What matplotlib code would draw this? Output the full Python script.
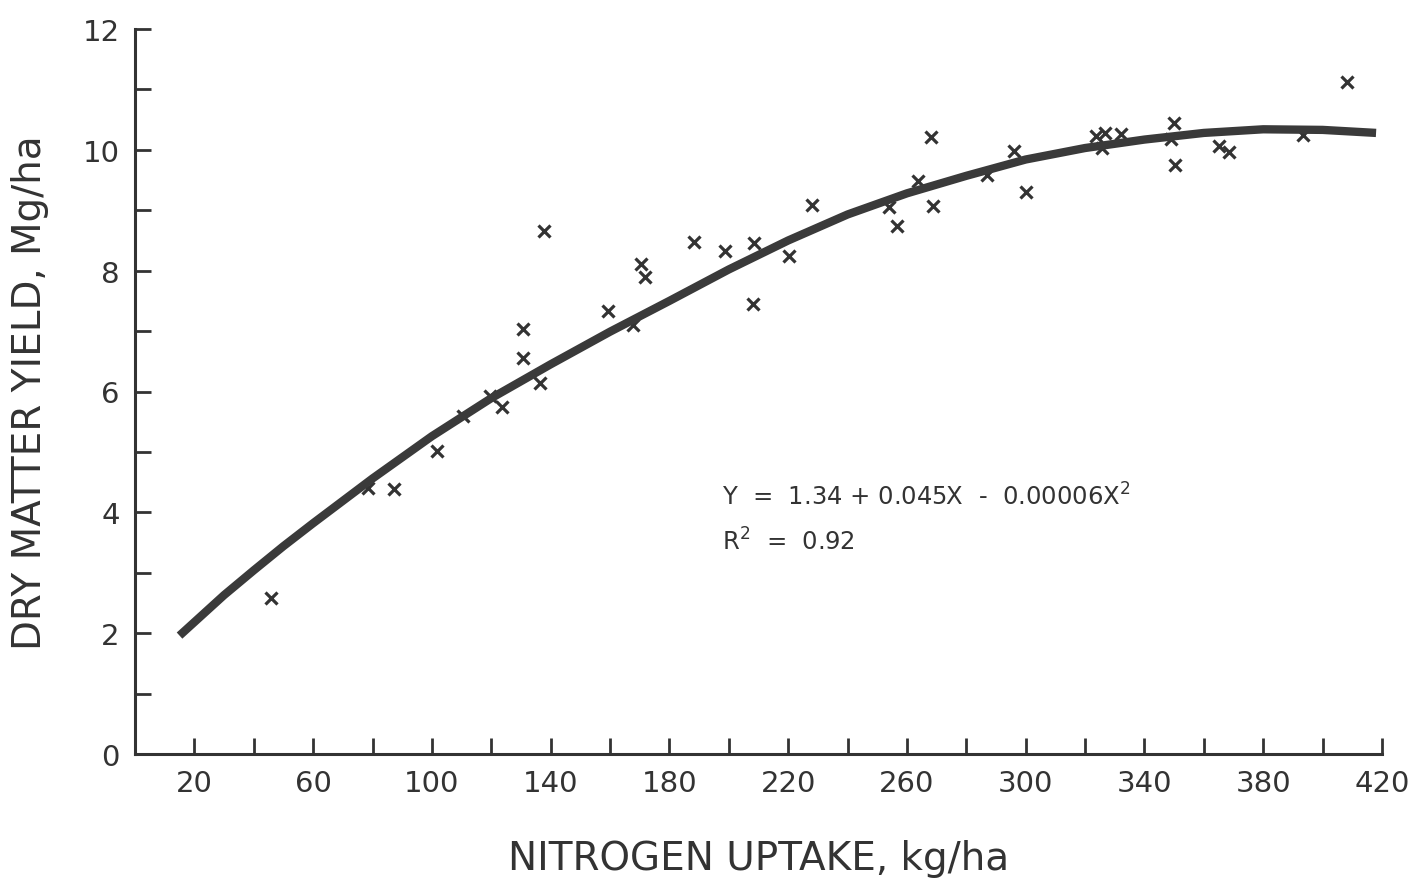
import matplotlib
matplotlib.use("Agg")
import matplotlib.pyplot as plt
from matplotlib.ticker import FixedLocator, FixedFormatter

# ---- data ----
uptake = [45.8, 78.5, 87.1, 101.7, 110.5, 119.7, 123.7, 130.8, 130.8, 136.3,
          137.9, 159.3, 167.6, 170.3, 171.7, 188.3, 198.8, 208.5, 208.0, 220.3,
          228.0, 254.1, 256.5, 263.8, 268.1, 268.7, 287.0, 296.0, 300.2, 323.8,
          326.8, 325.8, 332.0, 349.9, 349.1, 350.2, 365.2, 368.4, 393.3, 408.1]
yield_obs = [2.59, 4.40, 4.39, 5.02, 5.60, 5.93, 5.75, 7.04, 6.55, 6.14,
             8.66, 7.34, 7.10, 8.11, 7.89, 8.47, 8.33, 8.46, 7.45, 8.25,
             9.09, 9.06, 8.74, 9.48, 10.21, 9.07, 9.59, 9.98, 9.31, 10.23,
             10.28, 10.03, 10.26, 10.45, 10.18, 9.75, 10.07, 9.97, 10.25, 11.13]

curve_x = [15, 30, 40, 50, 60, 80, 100, 120, 140, 160, 180, 200, 220, 240, 260, 280,
           300, 320, 340, 360, 380, 400, 418]
curve_y = [1.96, 2.63, 3.04, 3.44, 3.82, 4.56, 5.26, 5.89, 6.45, 6.99, 7.50, 8.02, 8.50,
           8.93, 9.28, 9.57, 9.84, 10.03, 10.17, 10.28, 10.34, 10.33, 10.28]

x_ticks = list(range(20, 421, 20))
x_tick_labels = [str(v) if (v - 20) % 40 == 0 else "" for v in x_ticks]
y_ticks = list(range(0, 13))
y_tick_labels = [str(v) if v % 2 == 0 else "" for v in y_ticks]

equation = "Y  =  1.34 + 0.045X  -  0.00006X$^{2}$"
r_squared = "R$^{2}$  =  0.92"

# ---- styling ----
plt.rcParams["font.family"] = ["DejaVu Sans"]
plt.rcParams["mathtext.fontset"] = "dejavusans"
ink = "#333333"

fig = plt.figure(figsize=(14.24, 8.79), dpi=100)
ax = fig.add_axes([135 / 1424, 1 - 755 / 879, (1382 - 135) / 1424, (755 - 30) / 879])

ax.plot(uptake, yield_obs, linestyle="none", marker="x", markersize=9,
        markeredgewidth=2.3, color=ink, zorder=2)
ax.plot(curve_x, curve_y, color="#3a3a3a", linewidth=6.0,
        solid_capstyle="butt", solid_joinstyle="round", zorder=3)

ax.set_xlim(0, 420)
ax.set_ylim(0, 12)

ax.xaxis.set_major_locator(FixedLocator(x_ticks))
ax.xaxis.set_major_formatter(FixedFormatter(x_tick_labels))
ax.yaxis.set_major_locator(FixedLocator(y_ticks))
ax.yaxis.set_major_formatter(FixedFormatter(y_tick_labels))

for side in ("top", "right"):
    ax.spines[side].set_visible(False)
for side in ("left", "bottom"):
    ax.spines[side].set_linewidth(2.2)
    ax.spines[side].set_color(ink)

ax.tick_params(axis="both", direction="in", length=11.5, width=2.0,
               color=ink, labelcolor=ink, labelsize=21, pad=11)

ax.set_xlabel("NITROGEN UPTAKE, kg/ha", fontsize=28, color=ink, labelpad=30)
ax.set_ylabel("DRY MATTER YIELD, Mg/ha", fontsize=28, color=ink, labelpad=24)

ax.text(197.6, 4.12, equation, fontsize=17.5, color=ink, va="baseline", ha="left")
ax.text(197.6, 3.39, r_squared, fontsize=17.5, color=ink, va="baseline", ha="left")

fig.savefig("out.png", dpi=100, facecolor="white")
